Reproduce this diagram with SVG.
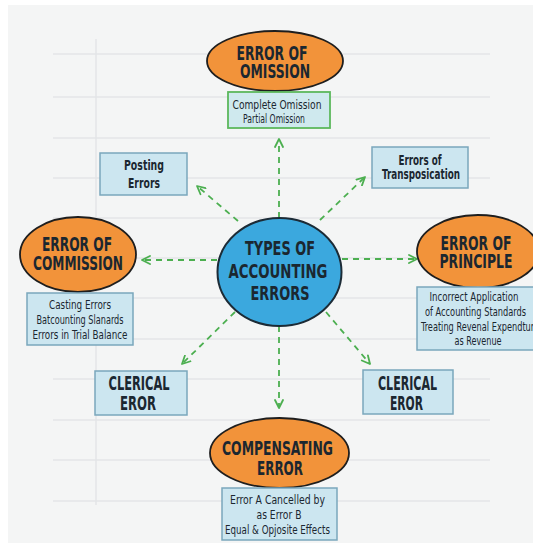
<svg xmlns="http://www.w3.org/2000/svg" width="533" height="543" viewBox="0 0 533 543">
<defs>
<style>
.bg{fill:#f4f5f5}
.rule{stroke:#e3e5e7;stroke-width:1.5;fill:none}
.oval{fill:#f2933a;stroke:#1e1e1e;stroke-width:1.8}
.hub{fill:#3ba8de;stroke:#1c2b36;stroke-width:2}
.box{fill:#cce6f0;stroke:#7aa7bc;stroke-width:1.5}
.gbox{fill:#cfe9ee;stroke:#5cb85c;stroke-width:1.8}
.conn{stroke:#4caf50;stroke-width:1.8;stroke-dasharray:6 5;fill:none}
text{font-family:'DejaVu Sans Condensed','DejaVu Sans',sans-serif;fill:#1b2730;text-anchor:middle}
.big{font-weight:bold;font-size:19.5px}
.mid{font-weight:bold;font-size:14.5px}
.sm{font-size:12.5px}
</style>
<marker id="arr" viewBox="0 0 10 10" refX="9" refY="5" markerWidth="10" markerHeight="10" markerUnits="userSpaceOnUse" orient="auto">
<path d="M1,1 L9,5 L1,9" fill="none" stroke="#4caf50" stroke-width="1.8" stroke-dasharray="none" stroke-linecap="round" stroke-linejoin="round"/>
</marker>
</defs>
<rect width="533" height="543" fill="#ffffff"/>
<rect class="bg" x="8" y="5" width="525" height="538"/>
<g id="ruling">
<path class="rule" d="M53,54H490M53,97H490M53,138H490M53,178H490M53,218H490M53,258H490M53,298H490M53,339H490M53,379H490M53,420H490M53,460H490M53,501H490M96,39V505"/>
</g>
<g id="connectors">
<path class="conn" d="M279,218V139" marker-end="url(#arr)"/>
<path class="conn" d="M238,221L197,186" marker-end="url(#arr)"/>
<path class="conn" d="M320,220L365,177" marker-end="url(#arr)"/>
<path class="conn" d="M217,260H142" marker-end="url(#arr)"/>
<path class="conn" d="M342,259H417" marker-end="url(#arr)"/>
<path class="conn" d="M235,312L182,364" marker-end="url(#arr)"/>
<path class="conn" d="M279,326V408" marker-end="url(#arr)"/>
<path class="conn" d="M326,312L370,364" marker-end="url(#arr)"/>
</g>
<g id="hub">
<ellipse class="hub" cx="279.5" cy="272" rx="62" ry="54"/>
<text class="big" x="280" y="255" textLength="70" lengthAdjust="spacingAndGlyphs">TYPES OF</text>
<text class="big" x="278" y="278" textLength="99" lengthAdjust="spacingAndGlyphs">ACCOUNTING</text>
<text class="big" x="280" y="300" textLength="59" lengthAdjust="spacingAndGlyphs">ERRORS</text>
</g>
<g id="omission">
<ellipse class="oval" cx="275" cy="61" rx="68" ry="30"/>
<text class="big" x="272" y="60" textLength="71" lengthAdjust="spacingAndGlyphs">ERROR OF</text>
<text class="big" x="275" y="78" textLength="70" lengthAdjust="spacingAndGlyphs">OMISSION</text>
<rect class="gbox" x="228" y="92" width="102" height="36"/>
<text class="sm" x="277" y="109" textLength="89" lengthAdjust="spacingAndGlyphs">Complete Omission</text>
<text class="sm" x="274" y="123" textLength="62" lengthAdjust="spacingAndGlyphs">Partial Omission</text>
</g>
<g id="posting">
<rect class="box" x="100" y="153" width="87" height="42"/>
<text class="mid" x="144" y="170" textLength="40" lengthAdjust="spacingAndGlyphs">Posting</text>
<text class="mid" x="144" y="188" textLength="32" lengthAdjust="spacingAndGlyphs">Errors</text>
</g>
<g id="transposition">
<rect class="box" x="372" y="147" width="96" height="41"/>
<text class="mid" x="420" y="165" textLength="43" lengthAdjust="spacingAndGlyphs">Errors of</text>
<text class="mid" x="421" y="179" textLength="78" lengthAdjust="spacingAndGlyphs">Transposication</text>
</g>
<g id="commission">
<ellipse class="oval" cx="78" cy="254.5" rx="58" ry="37.5"/>
<text class="big" x="77" y="251" textLength="70" lengthAdjust="spacingAndGlyphs">ERROR OF</text>
<text class="big" x="78" y="270" textLength="90" lengthAdjust="spacingAndGlyphs">COMMISSION</text>
<rect class="box" x="27" y="293" width="106" height="52"/>
<text class="sm" x="80" y="309" textLength="62" lengthAdjust="spacingAndGlyphs">Casting Errors</text>
<text class="sm" x="80" y="324" textLength="87" lengthAdjust="spacingAndGlyphs">Batcounting Slanards</text>
<text class="sm" x="80" y="339" textLength="95" lengthAdjust="spacingAndGlyphs">Errors in Trial Balance</text>
</g>
<g id="principle">
<ellipse class="oval" cx="478" cy="251.5" rx="61" ry="36.5"/>
<text class="big" x="476" y="250" textLength="71" lengthAdjust="spacingAndGlyphs">ERROR OF</text>
<text class="big" x="476" y="268" textLength="73" lengthAdjust="spacingAndGlyphs">PRINCIPLE</text>
<rect class="box" x="417" y="287" width="122" height="63"/>
<text class="sm" x="474" y="301" textLength="89" lengthAdjust="spacingAndGlyphs">Incorrect Application</text>
<text class="sm" x="475.5" y="316" textLength="101" lengthAdjust="spacingAndGlyphs">of Accounting Standards</text>
<text class="sm" x="480" y="331" textLength="118" lengthAdjust="spacingAndGlyphs">Treating Revenal Expendture</text>
<text class="sm" x="478" y="345" textLength="47" lengthAdjust="spacingAndGlyphs">as Revenue</text>
</g>
<g id="clerical-left">
<rect class="box" x="95" y="371" width="92" height="44"/>
<text class="big" x="139" y="390" textLength="61" lengthAdjust="spacingAndGlyphs">CLERICAL</text>
<text class="big" x="138" y="410" textLength="36" lengthAdjust="spacingAndGlyphs">EROR</text>
</g>
<g id="clerical-right">
<rect class="box" x="363" y="370" width="90" height="44"/>
<text class="big" x="407.5" y="390" textLength="59" lengthAdjust="spacingAndGlyphs">CLERICAL</text>
<text class="big" x="406.5" y="410" textLength="33" lengthAdjust="spacingAndGlyphs">EROR</text>
</g>
<g id="compensating">
<ellipse class="oval" cx="279.5" cy="453" rx="69.5" ry="35"/>
<text class="big" x="277.5" y="455" textLength="111" lengthAdjust="spacingAndGlyphs">COMPENSATING</text>
<text class="big" x="280" y="475" textLength="46" lengthAdjust="spacingAndGlyphs">ERROR</text>
<rect class="box" x="222" y="488" width="115" height="52"/>
<text class="sm" x="277.5" y="504" textLength="95" lengthAdjust="spacingAndGlyphs">Error A Cancelled by</text>
<text class="sm" x="279" y="519" textLength="45" lengthAdjust="spacingAndGlyphs">as Error B</text>
<text class="sm" x="277.5" y="534" textLength="105" lengthAdjust="spacingAndGlyphs">Equal &amp; Opjosite Effects</text>
</g>
</svg>
